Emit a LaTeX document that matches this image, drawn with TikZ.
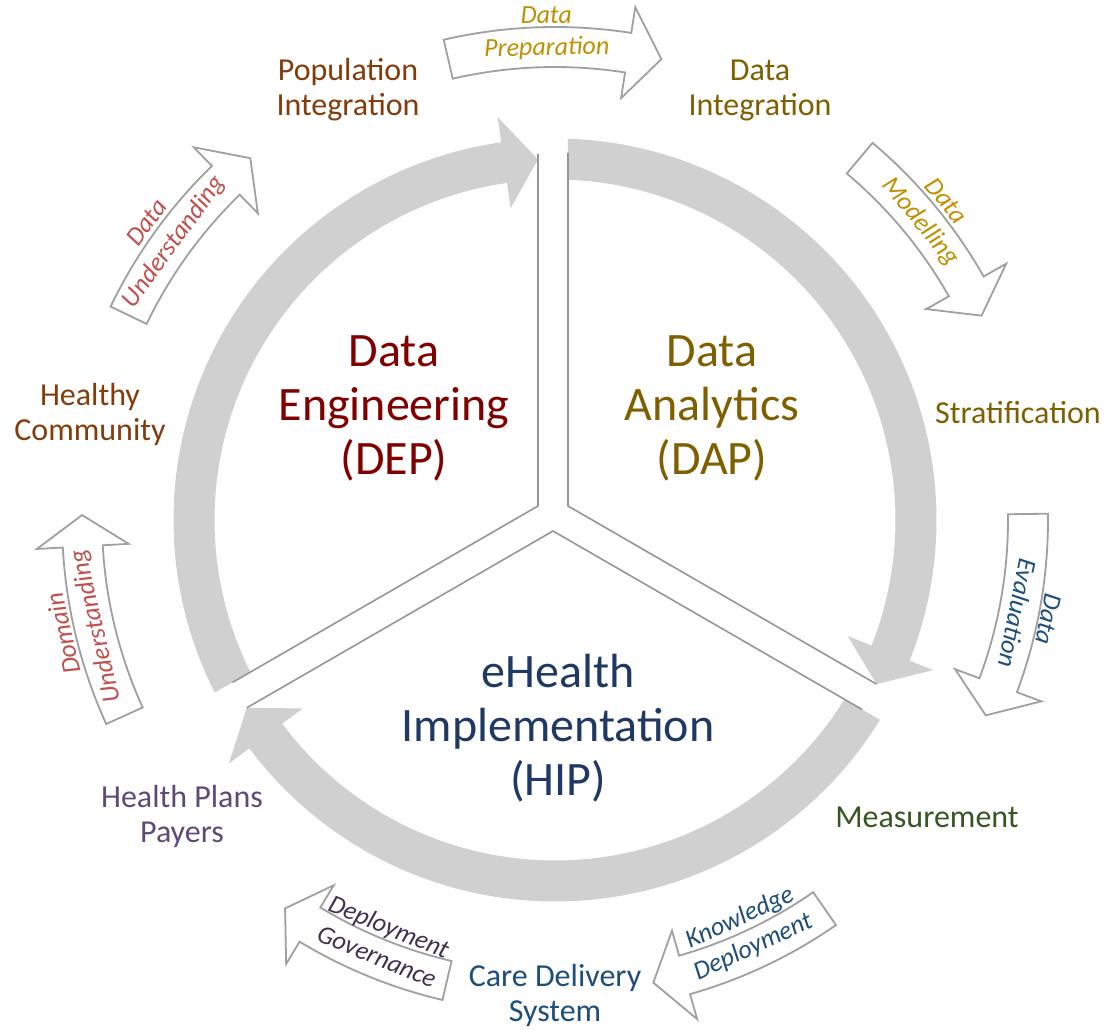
\documentclass[tikz,border=0pt]{standalone}
\usepackage{fontspec}
\setmainfont{Carlito}
\definecolor{ringgray}{RGB}{208,208,208}
\definecolor{edgegray}{RGB}{160,160,160}
\definecolor{divgray}{RGB}{150,150,150}
\definecolor{depred}{RGB}{128,0,0}
\definecolor{dapolive}{RGB}{127,96,0}
\definecolor{hipnavy}{RGB}{31,56,100}
\definecolor{rust}{RGB}{132,60,12}
\definecolor{moss}{RGB}{55,86,35}
\definecolor{steel}{RGB}{31,78,121}
\definecolor{plum}{RGB}{95,73,122}
\definecolor{gold}{RGB}{191,144,0}
\definecolor{grape}{RGB}{64,49,81}
\definecolor{brick}{RGB}{192,80,77}
% one grey segment of the ring: outer start, inner start, head back, tip
\newcommand\RingSeg[4]{%
  \fill[ringgray] (#1:381.5) arc[start angle=#1,end angle=#3,radius=381.5]
    -- (#3:407) -- (#4:361) -- (#3:315) -- (#3:340.5)
    arc[start angle=#3,end angle=#2,radius=340.5] -- cycle;}
% one outlined phase arrow on the outer circle: tail, head back, tip
\newcommand\PhaseArrow[3]{%
  \filldraw[phasearrow] (#1:493) arc[start angle=#1,end angle=#2,radius=493]
    -- (#2:519) -- (#3:473) -- (#2:427) -- (#2:453)
    arc[start angle=#2,end angle=#1,radius=453] -- cycle;}
\begin{document}
\begin{tikzpicture}[x=1pt,y=1pt,
  phasearrow/.style={fill=white,draw=edgegray,line width=1.8pt,line join=miter},
  divider/.style={draw=divgray,line width=1.6pt},
  phaselabel/.style={inner sep=0pt,align=center,font=\fontsize{26}{32}\selectfont\itshape},
  steplabel/.style={inner sep=0pt,align=center,font=\fontsize{32}{35}\selectfont},
  mainlabel/.style={inner sep=0pt,align=center,font=\fontsize{48}{54}\selectfont}]
\useasboundingbox (0,0) rectangle (1107,1029);
\fill[white] (0,0) rectangle (1107,1029);

\begin{scope}[shift={(555,509)}]
  % grey cycle: engineering, analytics, implementation
  \RingSeg{206.9}{206.53}{98.1}{92.7}
  \RingSeg{88.05}{87.81}{-21.64}{-27.04}
  \RingSeg{328.42}{328.23}{216.75}{211.35}
  % outer phase arrows
  \PhaseArrow{103.05}{81.1}{77.0}
  \PhaseArrow{49.9}{29.6}{25.6}
  \PhaseArrow{0.73}{-20.45}{-24.4}
  \PhaseArrow{-55.25}{-74.1}{-78.0}
  \PhaseArrow{256.8}{238.8}{235.2}
  \PhaseArrow{204.45}{183.2}{179.4}
  \PhaseArrow{154.35}{134.1}{130.1}
  % phase arrow labels
  \node[phaselabel,text=gold,rotate=1] (prep) at (91:487) {Data\\Preparation};
  \node[phaselabel,text=gold,rotate=-50.8] (model) at (39.2:487) {Data\\Modelling};
  \node[phaselabel,text=steel,rotate=-101.4] (eval) at (-11.4:487) {Data\\Evaluation};
  \node[phaselabel,text=steel,rotate=24.9] (know) at (-65.1:455) {Knowledge\\Deployment};
  \node[phaselabel,text=grape,rotate=337.8] (gov) at (247.8:455) {Deployment\\Governance};
  \node[phaselabel,text=brick,rotate=103] (domain) at (193:487) {Domain\\Understanding};
  \node[phaselabel,text=brick,rotate=53.9] (dataund) at (143.9:487) {Data\\Understanding};
\end{scope}

% dividers between the three sectors
\coordinate (ul) at (538,523);
\coordinate (ur) at (568,523);
\coordinate (apex) at (553,498);
\coordinate (topl) at (538,875);
\coordinate (topr) at (568,876);
\coordinate (depstart) at (232.6,346.65);
\coordinate (hiptip) at (246.7,321.15);
\coordinate (daptip) at (876.5,344.9);
\coordinate (hipstart) at (862.2,319.45);
\draw[divider] (topl) -- (ul) -- (depstart);
\draw[divider] (topr) -- (ur) -- (daptip);
\draw[divider] (hiptip) -- (apex) -- (hipstart);

% sector titles
\node[mainlabel,text=depred] (dep) at (394,620.5) {Data\\Engineering\\(DEP)};
\node[mainlabel,text=dapolive] (dap) at (712,620.5) {Data\\Analytics\\(DAP)};
\node[mainlabel,text=hipnavy] (hip) at (558,300.5) {eHealth\\Implementation\\(HIP)};

% cycle stations
\node[steplabel,text=rust] (popint) at (348,939) {Population\\Integration};
\node[steplabel,text=dapolive] (dataint) at (760,939) {Data\\Integration};
\node[steplabel,text=rust] (community) at (90,614.5) {Healthy\\Community};
\node[steplabel,text=dapolive] (strat) at (1018,616) {Stratification};
\node[steplabel,text=moss] (measure) at (927,212) {Measurement};
\node[steplabel,text=steel] (care) at (555,33.5) {Care Delivery\\System};
\node[steplabel,text=plum] (payers) at (182,212.5) {Health Plans\\Payers};
\end{tikzpicture}
\end{document}
